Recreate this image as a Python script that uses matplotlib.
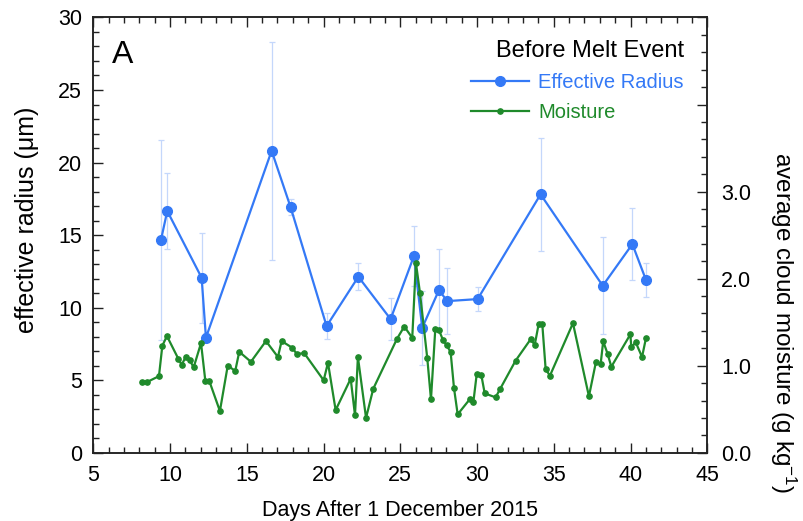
import matplotlib
matplotlib.use('Agg')
import matplotlib.pyplot as plt
from matplotlib.ticker import MultipleLocator, FixedFormatter, FixedLocator

plt.rcParams['font.family'] = ['Liberation Sans', 'DejaVu Sans']
plt.rcParams['mathtext.fontset'] = 'custom'
plt.rcParams['mathtext.rm'] = 'Liberation Sans'
plt.rcParams['mathtext.it'] = 'Liberation Sans'

# effective radius retrievals (days after 1 Dec 2015, um, +/- spread)
re_days = [9.41, 9.82, 12.06, 12.34, 16.62, 17.86, 20.2, 22.27, 24.37, 25.89,
           26.43, 27.52, 28.06, 30.04, 34.14, 38.19, 40.12, 41.01]
re_um = [14.66, 16.66, 12.06, 7.93, 20.81, 16.91, 8.73, 12.13, 9.21, 13.56,
         8.61, 11.21, 10.45, 10.59, 17.81, 11.51, 14.38, 11.9]
re_err = [6.9, 2.6, 3.1, 0.3, 7.5, 0.55, 0.9, 0.92, 1.45, 2.07,
          2.55, 2.8, 2.3, 0.85, 3.9, 3.35, 2.5, 1.15]

# average cloud moisture (g/kg)
mo_days = [8.15, 8.48, 9.28, 9.5, 9.8, 10.54, 10.76, 11.02, 11.28, 11.54,
           12.02, 12.3, 12.56, 13.25, 13.76, 14.25, 14.51, 15.27, 16.25, 17.03,
           17.27, 17.96, 18.25, 18.75, 20.01, 20.29, 20.79, 21.77, 22.05, 22.24,
           22.77, 23.24, 24.79, 25.26, 25.78, 26.02, 26.28, 26.76, 27.0, 27.28,
           27.52, 27.78, 28.02, 28.28, 28.5, 28.74, 29.52, 29.76, 29.98, 30.28,
           30.5, 31.21, 31.49, 32.51, 33.49, 33.76, 34.02, 34.25, 34.47, 34.75,
           36.25, 37.29, 37.75, 38.05, 38.22, 38.51, 38.75, 39.99, 40.05, 40.34,
           40.75, 41.01]
mo_gkg = [0.816, 0.81, 0.88, 1.23, 1.34, 1.08, 1.01, 1.10, 1.065, 0.98,
          1.26, 0.827, 0.824, 0.479, 1.0, 0.94, 1.16, 1.045, 1.283, 1.10,
          1.283, 1.206, 1.137, 1.142, 0.832, 1.034, 0.49, 0.85, 0.43, 1.10,
          0.40, 0.735, 1.31, 1.45, 1.32, 2.18, 1.84, 1.084, 0.613, 1.417,
          1.41, 1.295, 1.234, 1.157, 0.743, 0.441, 0.613, 0.579, 0.904, 0.893,
          0.682, 0.636, 0.728, 1.057, 1.303, 1.24, 1.482, 1.482, 0.96, 0.885,
          1.488, 0.648, 1.045, 1.015, 1.28, 1.134, 0.988, 1.36, 1.214, 1.268,
          1.10, 1.32]

blue = '#3479f6'
err_blue = '#c4d7fb'
green = '#1f8a2b'

fig = plt.figure(figsize=(8.04, 5.21), dpi=100)
ax1 = fig.add_axes([0.116, 0.131, 0.7637, 0.8355])
ax2 = ax1.twinx()

ax1.errorbar(re_days, re_um, yerr=re_err, fmt='none', ecolor=err_blue,
             elinewidth=0.9, capsize=2.5, capthick=0.9, zorder=1)
ln1, = ax1.plot(re_days, re_um, '-o', color=blue, lw=1.6, ms=7,
                label='Effective Radius', zorder=2)
ln2, = ax2.plot(mo_days, mo_gkg, '-o', color=green, lw=1.6, ms=3.8,
                label='Moisture')

ax1.set_xlim(5, 45)
ax1.set_ylim(0, 30)
ax2.set_ylim(0, 5)

ax1.xaxis.set_major_locator(MultipleLocator(5))
ax1.xaxis.set_minor_locator(MultipleLocator(1))
ax1.yaxis.set_major_locator(MultipleLocator(5))
ax1.yaxis.set_minor_locator(MultipleLocator(1))
ax2.yaxis.set_major_locator(FixedLocator([0, 1, 2, 3, 4, 5]))
ax2.yaxis.set_major_formatter(
    FixedFormatter(['0.0', '1.0', '2.0', '3.0', '', '']))
ax2.yaxis.set_minor_locator(MultipleLocator(0.2))

ax1.tick_params(axis='x', which='both', direction='in', top=True,
                labelsize=15.5, pad=9)
ax1.tick_params(axis='y', which='both', direction='in', right=False,
                labelsize=15.5, pad=8)
ax2.tick_params(axis='y', which='both', direction='in', labelsize=15.5,
                pad=10)
for a in (ax1, ax2):
    a.tick_params(which='major', length=7.5, width=1, color='#222222')
    a.tick_params(which='minor', length=4, width=1, color='#222222')
    for s in a.spines.values():
        s.set_linewidth(1.1)
        s.set_color('#222222')

ax1.set_xlabel('Days After 1 December 2015', fontsize=15.5, labelpad=10)
fig.text(27 / 804, 1 - 220 / 521, 'effective radius (\u03bcm)', fontsize=18,
         rotation=90, ha='center', va='center')
fig.text(783 / 804, 1 - 152 / 521, 'average cloud moisture (g kg$^{-1}$)',
         fontsize=17.5, rotation=270, ha='center', va='top')

ax1.text(0.03, 0.895, 'A', transform=ax1.transAxes, fontsize=23)

leg = ax1.legend([ln1, ln2], ['Effective Radius', 'Moisture'],
                 title='Before Melt Event', loc='upper right',
                 bbox_to_anchor=(0.985, 0.98), frameon=False, fontsize=14.5,
                 title_fontsize=17, handlelength=2.9, labelspacing=0.55,
                 handletextpad=0.45, alignment='right', borderaxespad=0.3)
for txt, ln in zip(leg.get_texts(), (ln1, ln2)):
    txt.set_color(ln.get_color())

fig.savefig('out.png', dpi=100)
